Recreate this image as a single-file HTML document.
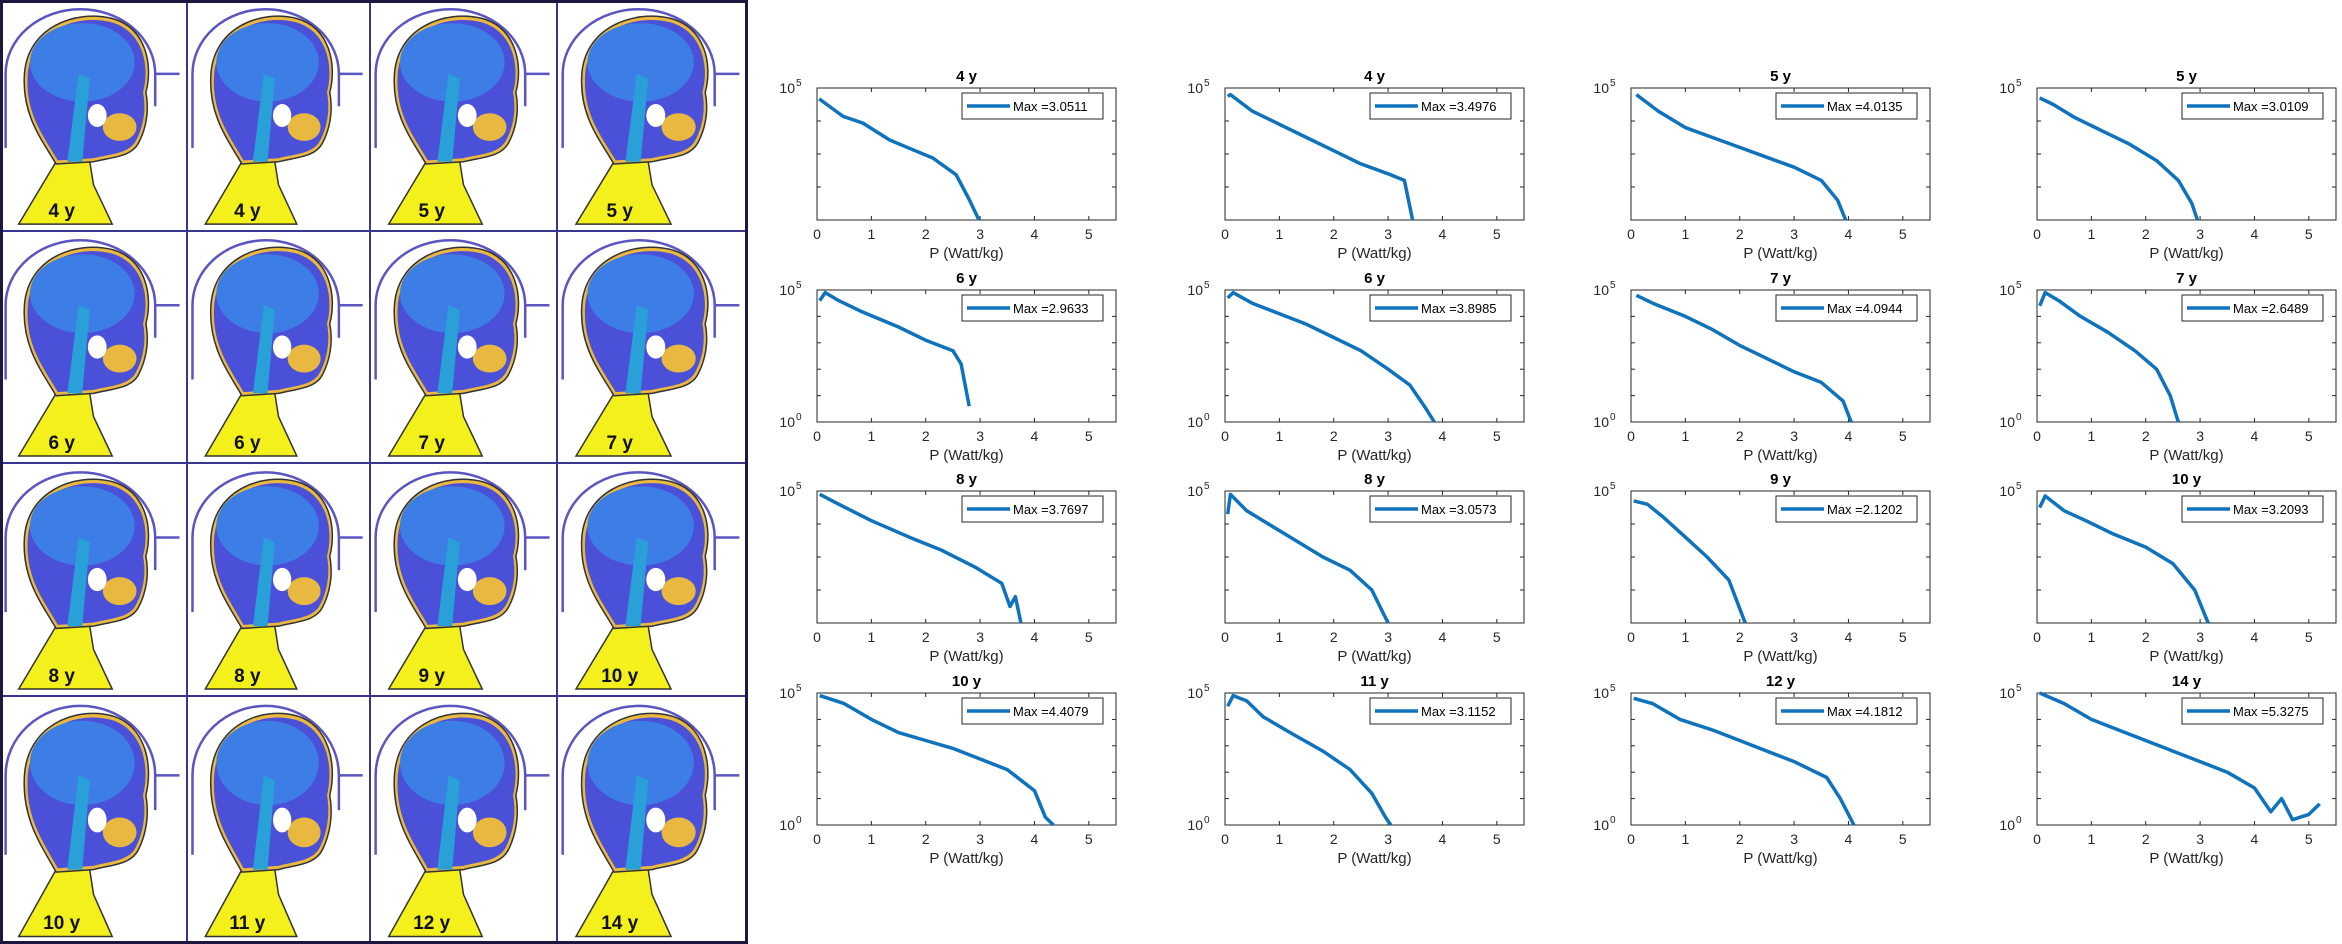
<!DOCTYPE html>
<html><head><meta charset="utf-8"><style>
body{margin:0;background:#fff;width:2342px;height:944px;overflow:hidden;font-family:"Liberation Sans",sans-serif}
svg{position:absolute;left:0;top:0}
</style></head><body>
<svg id="root" width="2342" height="944"></svg>
<script>
const NS="http://www.w3.org/2000/svg";
const root=document.getElementById('root');
function mk(tag,attrs,parent){const e=document.createElementNS(NS,tag);for(const k in attrs)e.setAttribute(k,attrs[k]);(parent||root).appendChild(e);return e;}

// ---- brain panel ----
const brainLabels=["4 y","4 y","5 y","5 y","6 y","6 y","7 y","7 y","8 y","8 y","9 y","10 y","10 y","11 y","12 y","14 y"];
const colX=[0,187,370,557,747], rowY=[0,231,463,696,944];
const panel=mk('g',{});


for(let i=0;i<16;i++){
  const r=Math.floor(i/4),c=i%4;
  const x=colX[c],y=rowY[r],w=colX[c+1]-x,h=rowY[r+1]-y;
  const g=mk('g',{transform:`translate(${x},${y})`},panel);
  
  
  mk('rect',{x:0,y:0,width:w,height:h,fill:'#fff',stroke:'#3a3590','stroke-width':2},g);
  // coil arc
  mk('path',{d:`M${w*0.03},${h*0.64} L${w*0.03},${h*0.32} A${w*0.4},${h*0.28} 0 0 1 ${w*0.83},${h*0.32} L${w*0.83},${h*0.46} M${w*0.83},${h*0.32} L${w*0.96},${h*0.32}`,fill:'none',stroke:'#5a55c0','stroke-width':2.5},g);
  // neck
  mk('path',{d:`M${w*0.3},${h*0.7} L${w*0.1},${h*0.97} L${w*0.6},${h*0.97} L${w*0.5},${h*0.8} L${w*0.48},${h*0.7} Z`,fill:'#f4f01c',stroke:'#333','stroke-width':1.5},g);
  // head outer (orange rim)
  const head=(s)=>`M${w*0.3},${h*0.71} C${w*0.22},${h*0.6} ${w*0.12},${h*0.5} ${w*0.13},${h*0.33} C${w*0.14},${h*0.12} ${w*0.4},${h*0.04} ${w*0.6},${h*0.08} C${w*0.78},${h*0.12} ${w*0.82},${h*0.28} ${w*0.78},${h*0.4} C${w*0.8},${h*0.48} ${w*0.78},${h*0.56} ${w*0.74},${h*0.62} C${w*0.7},${h*0.68} ${w*0.6},${h*0.68} ${w*0.5},${h*0.7} Z`;
  mk('path',{d:head(),fill:'#e8b840',stroke:'#333','stroke-width':1.5},g);
  mk('path',{d:head(),fill:'#4b50d8',transform:`translate(${w*0.024},${h*0.02}) scale(0.95)`},g);
  mk('ellipse',{cx:w*0.44,cy:h*0.27,rx:w*0.28,ry:h*0.17,fill:'#3d7ee6'},g);
  mk('path',{d:`M${w*0.42},${h*0.32} L${w*0.36},${h*0.7} L${w*0.44},${h*0.7} L${w*0.48},${h*0.34} Z`,fill:'#2aa0d8'},g);
  mk('ellipse',{cx:w*0.64,cy:h*0.55,rx:w*0.09,ry:h*0.06,fill:'#e8b840'},g);
  mk('ellipse',{cx:w*0.52,cy:h*0.5,rx:w*0.05,ry:h*0.05,fill:'#fff'},g);
  const t=mk('text',{x:w*0.33,y:h*0.94,'font-size':19,'font-weight':'bold','text-anchor':'middle',fill:'#111'},g);
  t.textContent=brainLabels[i];
  
  
}
mk('rect',{x:1.5,y:1.5,width:745,height:941,fill:'none',stroke:'#1a1840','stroke-width':3},panel);

// ---- chart data ----
const titles=["4 y","4 y","5 y","5 y","6 y","6 y","7 y","7 y","8 y","8 y","9 y","10 y","10 y","11 y","12 y","14 y"];
const maxVals=["3.0511","3.4976","4.0135","3.0109","2.9633","3.8985","4.0944","2.6489","3.7697","3.0573","2.1202","3.2093","4.4079","3.1152","4.1812","5.3275"];
const yMinDecade=[1,1,1,1,0,0,0,0,1,1,1,1,0,0,0,0];
const xTicks=[0,1,2,3,4,5];
const xs=[
[0.04,0.48,0.84,1.33,1.76,2.13,2.56,2.80,2.98],
[0.05,0.1,0.5,1.0,1.5,2.0,2.5,3.0,3.3,3.45],
[0.1,0.5,1,1.5,2,2.5,3,3.5,3.8,3.95],
[0.05,0.3,0.7,1.2,1.7,2.2,2.6,2.85,2.95],
[0.05,0.15,0.4,0.8,1.5,2.0,2.5,2.65,2.8],
[0.05,0.15,0.5,1.0,1.5,2.0,2.5,3.0,3.4,3.7,3.85],
[0.1,0.4,1.0,1.5,2.0,2.5,3.0,3.5,3.9,4.05],
[0.05,0.15,0.4,0.8,1.3,1.8,2.2,2.45,2.6],
[0.05,0.4,1.0,1.7,2.3,2.9,3.4,3.55,3.65,3.75],
[0.05,0.1,0.4,0.8,1.3,1.8,2.3,2.7,3.0],
[0.05,0.3,0.6,1.0,1.4,1.8,2.1],
[0.05,0.15,0.5,0.9,1.4,2.0,2.5,2.9,3.15],
[0.05,0.5,1.0,1.5,2.0,2.5,3.0,3.5,4.0,4.2,4.35],
[0.05,0.15,0.4,0.7,1.2,1.8,2.3,2.7,2.95,3.05],
[0.05,0.4,0.9,1.5,2.0,2.5,3.0,3.6,3.85,4.1],
[0.05,0.5,1.0,1.5,2.0,2.5,3.0,3.5,4.0,4.3,4.5,4.7,5.0,5.2]];
const logYs=[
[4.67,4.14,3.94,3.43,3.13,2.88,2.37,1.62,1.0],
[4.75,4.8,4.3,3.9,3.5,3.1,2.7,2.4,2.2,1.0],
[4.8,4.3,3.8,3.5,3.2,2.9,2.6,2.2,1.6,1.0],
[4.7,4.5,4.1,3.7,3.3,2.8,2.2,1.5,1.0],
[4.6,4.9,4.6,4.2,3.6,3.1,2.7,2.2,0.6],
[4.7,4.9,4.5,4.1,3.7,3.2,2.7,2.0,1.4,0.5,0],
[4.8,4.5,4.0,3.5,2.9,2.4,1.9,1.5,0.8,0],
[4.4,4.9,4.6,4.0,3.4,2.7,2.0,1.0,0],
[4.9,4.6,4.1,3.6,3.2,2.7,2.2,1.5,1.8,1.0],
[4.3,4.9,4.4,4.0,3.5,3.0,2.6,2.0,1.0],
[4.7,4.6,4.2,3.6,3.0,2.3,1.0],
[4.5,4.85,4.4,4.1,3.7,3.3,2.8,2.0,1.0],
[4.9,4.6,4.0,3.5,3.2,2.9,2.5,2.1,1.3,0.3,0],
[4.5,4.9,4.7,4.1,3.5,2.8,2.1,1.2,0.3,0],
[4.8,4.6,4.0,3.6,3.2,2.8,2.4,1.8,1.0,0],
[5.0,4.6,4.0,3.6,3.2,2.8,2.4,2.0,1.4,0.5,1.0,0.2,0.4,0.8]];

const axX=[817,1225,1631,2037], axY=[88,290,491,693], AW=299, AH=132, XMAX=5.5;
for(let i=0;i<16;i++){
  const ox=axX[i%4], oy=axY[Math.floor(i/4)], ymin=yMinDecade[i];
  const sx=v=>ox+v/XMAX*AW;
  const sy=v=>oy+AH-(v-ymin)/(5-ymin)*AH;
  const g=mk('g',{});
  
  
  const t=mk('text',{x:ox+AW/2,y:oy-7,'font-size':15,'font-weight':'bold','text-anchor':'middle',fill:'#000'},g);
  t.textContent=titles[i];
  
  
  mk('rect',{x:ox,y:oy,width:AW,height:AH,fill:'#fff',stroke:'#262626','stroke-width':1},g);
  for(let d=ymin+1;d<5;d++){mk('line',{x1:ox,x2:ox+4,y1:sy(d),y2:sy(d),stroke:'#262626'},g);mk('line',{x1:ox+AW-4,x2:ox+AW,y1:sy(d),y2:sy(d),stroke:'#262626'},g);}
  xTicks.forEach(v=>{
    mk('line',{x1:sx(v),x2:sx(v),y1:oy+AH,y2:oy+AH-4,stroke:'#262626'},g);
    mk('line',{x1:sx(v),x2:sx(v),y1:oy,y2:oy+4,stroke:'#262626'},g);
    const tl=mk('text',{x:sx(v),y:oy+AH+19,'font-size':14,'text-anchor':'middle',fill:'#262626'},g);
    tl.textContent=v;
    
    
  });
  const yl=[[5,'10','5']];
  if(ymin===0) yl.push([0,'10','0']);
  yl.forEach(([d,b,e])=>{
    const tx=mk('text',{x:ox-22,y:sy(d)+5,'font-size':14,'text-anchor':'end',fill:'#262626'},g);
    tx.textContent=b;
    
    
    const te=mk('text',{x:ox-21,y:sy(d)-2,'font-size':10,fill:'#262626'},g);
    te.textContent=e;
  });
  const xl=mk('text',{x:ox+AW/2,y:oy+AH+38,'font-size':15,'text-anchor':'middle',fill:'#262626'},g);
  xl.textContent='P (Watt/kg)';
  
  
  const pts=xs[i].map((x,k)=>sx(x).toFixed(1)+','+sy(logYs[i][k]).toFixed(1)).join(' ');
  const pl=mk('polyline',{points:pts,fill:'none',stroke:'#0e72bd','stroke-width':3.5,'stroke-linejoin':'round'},g);
  
  
  const lg=mk('g',{},g);
  
  
  mk('rect',{x:ox+145,y:oy+5,width:141,height:26,fill:'#fff',stroke:'#262626'},lg);
  mk('line',{x1:ox+150,x2:ox+193,y1:oy+18,y2:oy+18,stroke:'#0e72bd','stroke-width':3.5},lg);
  const lt=mk('text',{x:ox+196,y:oy+23,'font-size':13,fill:'#000'},lg);
  lt.textContent='Max ='+maxVals[i];
}
</script>
</body></html>
